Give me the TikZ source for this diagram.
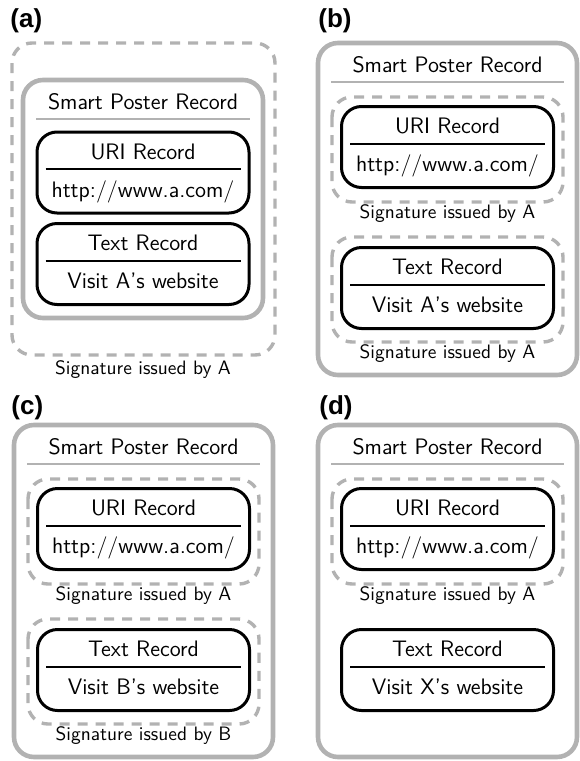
\documentclass[tikz,border=0pt]{standalone}
\usepackage{fontspec}
\newfontfamily\panelfont{Liberation Sans}
\usepackage{tikz}
\usetikzlibrary{positioning}
\definecolor{framegray}{gray}{0.7}

\begin{document}
\begin{tikzpicture}[
    x=0.5pt, y=-0.5pt,
    panel/.style={font=\panelfont\bfseries\fontsize{13}{15}\selectfont, inner sep=0pt, anchor=west},
    record/.style={draw, line width=1.5pt, rounded corners=10pt, minimum width=106pt, minimum height=40.5pt, inner sep=0pt},
    poster/.style={draw=framegray, line width=2.3pt, rounded corners=10pt},
    signature/.style={draw=framegray, line width=1.7pt, dash pattern=on 5pt off 4pt, rounded corners=10pt},
    rtext/.style={font=\sffamily\fontsize{11.2}{13}\selectfont, inner sep=0pt, anchor=base},
    stext/.style={font=\sffamily\fontsize{9.7}{11}\selectfont, inner sep=0pt, anchor=base},
    rsep/.style={line width=1pt},
    psep/.style={draw=framegray, line width=1.2pt}
]
    \useasboundingbox (0,0) rectangle (579,761);

    % (a) whole poster signed
    \node[panel] (labA) at (10,21) {(a)};
    \draw[signature] (12,43) rectangle (275,355);
    \draw[poster] (23,80) rectangle (263,318);
    \node[rtext] (posterAh) at (143,109) {Smart Poster Record};
    \draw[psep] (36,119) -- (250,119);
    \node[record] (uriA) at (143,172.5) {};
    \node[rtext] (uriAh) at ([yshift=6.75pt]uriA.center) {URI Record};
    \node[rtext] (uriAv) at ([yshift=-12.25pt]uriA.center) {http://www.a.com/};
    \draw[rsep] ([xshift=5pt, yshift=1.75pt]uriA.west) -- ([xshift=-5pt, yshift=1.75pt]uriA.east);
    \node[record] (textA) at (143,264) {};
    \node[rtext] (textAh) at ([yshift=6.75pt]textA.center) {Text Record};
    \node[rtext] (textAv) at ([yshift=-12.25pt]textA.center) {Visit A's website};
    \draw[rsep] ([xshift=5pt, yshift=1.75pt]textA.west) -- ([xshift=-5pt, yshift=1.75pt]textA.east);
    \node[stext] (sigA) at (143,374) {Signature issued by A};

    % (b) each record signed by A
    \node[panel] (labB) at (318,21) {(b)};
    \draw[poster] (318,43) rectangle (577,375);
    \node[rtext] (posterBh) at (447.5,72) {Smart Poster Record};
    \draw[psep] (331,82) -- (564,82);
    \draw[signature] (332,97) rectangle (563,202);
    \node[record] (uriB) at (447.5,147) {};
    \node[rtext] (uriBh) at ([yshift=6.75pt]uriB.center) {URI Record};
    \node[rtext] (uriBv) at ([yshift=-12.25pt]uriB.center) {http://www.a.com/};
    \draw[rsep] ([xshift=5pt, yshift=1.75pt]uriB.west) -- ([xshift=-5pt, yshift=1.75pt]uriB.east);
    \node[stext] (sigB1) at (447.5,218) {Signature issued by A};
    \draw[signature] (332,237) rectangle (563,342);
    \node[record] (textB) at (447.5,288) {};
    \node[rtext] (textBh) at ([yshift=6.75pt]textB.center) {Text Record};
    \node[rtext] (textBv) at ([yshift=-12.25pt]textB.center) {Visit A's website};
    \draw[rsep] ([xshift=5pt, yshift=1.75pt]textB.west) -- ([xshift=-5pt, yshift=1.75pt]textB.east);
    \node[stext] (sigB2) at (447.5,358) {Signature issued by A};

    % (c) text record signed by B
    \node[panel] (labC) at (11,408) {(c)};
    \begin{scope}[shift={(-304,382)}]
        \draw[poster] (318,43) rectangle (577,375);
        \node[rtext] (posterCh) at (447.5,72) {Smart Poster Record};
        \draw[psep] (331,82) -- (564,82);
        \draw[signature] (332,97) rectangle (563,202);
        \node[record] (uriC) at (447.5,147) {};
        \node[rtext] (uriCh) at ([yshift=6.75pt]uriC.center) {URI Record};
        \node[rtext] (uriCv) at ([yshift=-12.25pt]uriC.center) {http://www.a.com/};
        \draw[rsep] ([xshift=5pt, yshift=1.75pt]uriC.west) -- ([xshift=-5pt, yshift=1.75pt]uriC.east);
        \node[stext] (sigC1) at (447.5,218) {Signature issued by A};
        \draw[signature] (332,237) rectangle (563,342);
        \node[record] (textC) at (447.5,288) {};
        \node[rtext] (textCh) at ([yshift=6.75pt]textC.center) {Text Record};
        \node[rtext] (textCv) at ([yshift=-12.25pt]textC.center) {Visit B's website};
        \draw[rsep] ([xshift=5pt, yshift=1.75pt]textC.west) -- ([xshift=-5pt, yshift=1.75pt]textC.east);
        \node[stext] (sigC2) at (447.5,358) {Signature issued by B};
    \end{scope}

    % (d) text record unsigned
    \node[panel] (labD) at (319,408) {(d)};
    \begin{scope}[shift={(0,382)}]
        \draw[poster] (318,43) rectangle (577,375);
        \node[rtext] (posterDh) at (447.5,72) {Smart Poster Record};
        \draw[psep] (331,82) -- (564,82);
        \draw[signature] (332,97) rectangle (563,202);
        \node[record] (uriD) at (447.5,147) {};
        \node[rtext] (uriDh) at ([yshift=6.75pt]uriD.center) {URI Record};
        \node[rtext] (uriDv) at ([yshift=-12.25pt]uriD.center) {http://www.a.com/};
        \draw[rsep] ([xshift=5pt, yshift=1.75pt]uriD.west) -- ([xshift=-5pt, yshift=1.75pt]uriD.east);
        \node[stext] (sigD1) at (447.5,218) {Signature issued by A};
        \node[record] (textD) at (447.5,288) {};
        \node[rtext] (textDh) at ([yshift=6.75pt]textD.center) {Text Record};
        \node[rtext] (textDv) at ([yshift=-12.25pt]textD.center) {Visit X's website};
        \draw[rsep] ([xshift=5pt, yshift=1.75pt]textD.west) -- ([xshift=-5pt, yshift=1.75pt]textD.east);
    \end{scope}
\end{tikzpicture}
\end{document}
